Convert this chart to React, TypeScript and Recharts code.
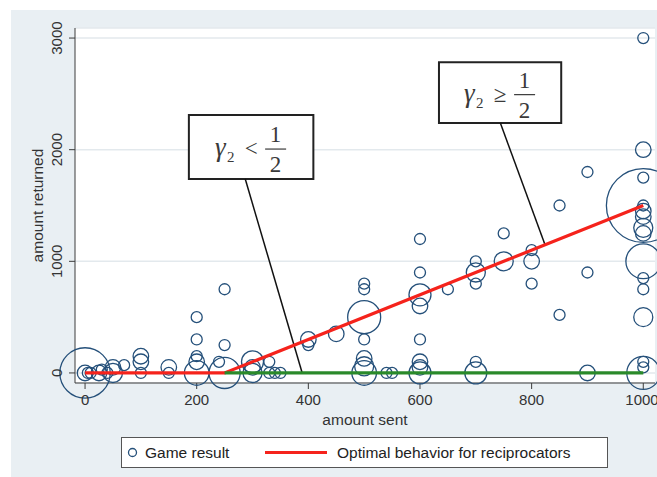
import React from 'react';
import {
  ScatterChart,
  Scatter,
  XAxis,
  YAxis,
  ZAxis,
  CartesianGrid,
  ReferenceArea,
  ReferenceLine,
  Legend,
} from 'recharts';

// amount sent (x), amount returned (y), number of games at that point (bubble weight)
const sentAmounts = [
  0, 0, 5, 10, 25, 30, 40, 50, 50, 70,
  100, 100, 100, 150, 150, 200, 200, 200, 200, 200,
  240, 250, 250, 250, 300, 300, 300, 330, 330, 340,
  350, 400, 400, 450, 500, 500, 500, 500, 500, 500,
  500, 540, 550, 600, 600, 600, 600, 600, 600, 600,
  600, 650, 700, 700, 700, 700, 700, 750, 750, 800,
  800, 800, 850, 850, 900, 900, 900, 1000, 1000, 1000,
  1000, 1000, 1000, 1000, 1000, 1000, 1000, 1000, 1000, 1000,
  1000, 1000, 1000,
];
const returnedAmounts = [
  0, 0, 0, 0, 0, 30, 0, 0, 50, 70,
  150, 100, 0, 50, 0, 500, 300, 150, 100, 0,
  100, 750, 250, 0, 100, 50, 0, 100, 0, 0,
  0, 300, 250, 350, 800, 750, 500, 300, 130, 60,
  0, 0, 0, 1200, 900, 700, 600, 300, 100, 50,
  0, 750, 1000, 900, 800, 100, 0, 1250, 1000, 1100,
  1000, 800, 1500, 520, 1800, 900, 0, 3000, 2000, 1750,
  1500, 1500, 1450, 1400, 1300, 1250, 1000, 850, 750, 500,
  100, 50, 0,
];
const gameCounts = [
  21, 2, 1, 1, 2, 1, 1, 3, 2, 1,
  2, 2, 1, 2, 1, 1, 1, 1, 2, 5,
  1, 1, 1, 8, 4, 2, 3, 1, 1, 1,
  1, 2, 1, 2, 1, 1, 9, 1, 2, 3,
  5, 1, 1, 1, 1, 4, 2, 1, 2, 2,
  4, 1, 1, 3, 1, 1, 4, 1, 3, 1,
  2, 1, 1, 1, 1, 1, 2, 1, 2, 1,
  45, 1, 2, 2, 3, 2, 10, 1, 1, 3,
  1, 1, 9,
];

// Optimal behaviour lines
const reciprocatorSent = [0, 250, 1000];
const reciprocatorReturned = [0, 0, 1500];
const selfishSent = [250, 1000];
const selfishReturned = [0, 0];

const xTicks = [0, 200, 400, 600, 800, 1000];
const yTicks = [0, 1000, 2000, 3000];

const games = sentAmounts.map((s, i) => ({ x: s, y: returnedAmounts[i], z: gameCounts[i] }));
const reciprocatorLine = reciprocatorSent.map((s, i) => ({ x: s, y: reciprocatorReturned[i] }));
const selfishLine = selfishSent.map((s, i) => ({ x: s, y: selfishReturned[i] }));

const NAVY = '#25507a';
const RED = '#f5231c';
const GREEN = '#2a8a2a';
const AXIS = '#3c3c3c';
const SANS = '"Liberation Sans", Arial, Helvetica, sans-serif';
const SERIF = '"Liberation Serif", "Times New Roman", serif';
const MAX_COUNT = 45;
const UNIT_AREA = Math.PI * 5.5 * 5.5;

const YTick = (props: any) => {
  const { x, y, payload } = props;
  return (
    <text
      x={x}
      y={y}
      transform={`rotate(-90 ${x} ${y})`}
      textAnchor="middle"
      fontSize={15}
      fontFamily={SANS}
      fill="#333"
    >
      {payload.value}
    </text>
  );
};

const makeGammaLabel = (sign: string) => (props: any) => {
  const vb = props.viewBox || {};
  const cx = vb.x + vb.width / 2;
  const cy = vb.y + vb.height / 2;
  const col = '#3a3a3a';
  return (
    <g>
      <text x={cx - 36} y={cy + 9} fontSize={27} fontStyle="italic" fontFamily={SERIF} fill={col}>
        γ
      </text>
      <text x={cx - 24} y={cy + 15} fontSize={15} fontFamily={SERIF} fill={col}>
        2
      </text>
      <text x={cx} y={cy + 9} fontSize={23} textAnchor="middle" fontFamily={SERIF} fill={col}>
        {sign}
      </text>
      <text x={cx + 24.5} y={cy - 5} fontSize={23} textAnchor="middle" fontFamily={SERIF} fill={col}>
        1
      </text>
      <line x1={cx + 14} x2={cx + 35} y1={cy + 2} y2={cy + 2} stroke={col} strokeWidth={1.2} />
      <text x={cx + 24.5} y={cy + 25} fontSize={23} textAnchor="middle" fontFamily={SERIF} fill={col}>
        2
      </text>
    </g>
  );
};

const LegendBox = () => (
  <svg width={487} height={31} style={{ display: 'block' }}>
    <rect x={0.5} y={0.5} width={486} height={30} fill="#fff" stroke="#555" strokeWidth={1} />
    <circle cx={11.5} cy={15.5} r={4} fill="none" stroke={NAVY} strokeWidth={1.3} />
    <text x={24} y={21} fontSize={15.5} fontFamily={SANS} fill="#222">
      Game result
    </text>
    <line x1={144} x2={206} y1={15.5} y2={15.5} stroke={RED} strokeWidth={3} />
    <text x={216} y={21} fontSize={15.5} fontFamily={SANS} fill="#222">
      Optimal behavior for reciprocators
    </text>
  </svg>
);

const emptyShape = () => <g />;

export default function App() {
  return (
    <div style={{ position: 'absolute', left: 0, top: 0, width: 657, height: 477, background: '#fff' }}>
      <div
        style={{ position: 'absolute', left: 11, top: 10, width: 646, height: 467, background: '#e9eff3' }}
      />
      <div style={{ position: 'absolute', left: 0, top: 0 }}>
        <ScatterChart width={657} height={477} margin={{ top: 28, right: 2, bottom: 49, left: 0 }}>
          <CartesianGrid
            vertical={false}
            horizontal
            fill="#ffffff"
            stroke="#e3e9ed"
            strokeWidth={1.5}
          />
          <XAxis
            type="number"
            dataKey="x"
            domain={[-18, 1021]}
            ticks={xTicks}
            height={45}
            tickSize={6}
            tickMargin={5}
            stroke={AXIS}
            tick={{ fontSize: 15, fontFamily: SANS, fill: '#333' }}
            label={{
              value: 'amount sent',
              position: 'insideBottom',
              offset: 3,
              fontSize: 15.5,
              fontFamily: SANS,
              fill: '#333',
            }}
          />
          <YAxis
            type="number"
            dataKey="y"
            domain={[-90, 3090]}
            ticks={yTicks}
            width={75}
            tickSize={6}
            tickMargin={7}
            stroke={AXIS}
            tick={<YTick />}
            label={{
              value: 'amount returned',
              angle: -90,
              position: 'center',
              dx: 0,
              fontSize: 15.5,
              fontFamily: SANS,
              fill: '#333',
            }}
          />
          <ZAxis type="number" dataKey="z" domain={[0, MAX_COUNT]} range={[0, MAX_COUNT * UNIT_AREA]} />
          <Scatter
            name="Game result"
            data={games}
            fill="none"
            stroke={NAVY}
            strokeWidth={1.3}
            isAnimationActive={false}
          />
          <Scatter
            name="Optimal behavior for reciprocators"
            data={reciprocatorLine}
            line={{ stroke: RED, strokeWidth: 3.2 }}
            shape={emptyShape}
            fill={RED}
            isAnimationActive={false}
          />
          <Scatter
            name="Selfish"
            data={selfishLine}
            line={{ stroke: GREEN, strokeWidth: 3.2 }}
            shape={emptyShape}
            fill={GREEN}
            isAnimationActive={false}
          />
          <ReferenceLine
            segment={[
              { x: 287, y: 1737 },
              { x: 389, y: 0 },
            ]}
            stroke="#111"
            strokeWidth={1.5}
          />
          <ReferenceLine
            segment={[
              { x: 744, y: 2238 },
              { x: 824, y: 1148 },
            ]}
            stroke="#111"
            strokeWidth={1.5}
          />
          <ReferenceArea
            x1={186}
            x2={409}
            y1={1737}
            y2={2310}
            fill="#fff"
            fillOpacity={1}
            stroke="#222"
            strokeWidth={2}
            label={makeGammaLabel('<')}
          />
          <ReferenceArea
            x1={634}
            x2={853}
            y1={2238}
            y2={2784}
            fill="#fff"
            fillOpacity={1}
            stroke="#222"
            strokeWidth={2}
            label={makeGammaLabel('≥')}
          />
          <Legend
            layout="horizontal"
            verticalAlign="middle"
            align="center"
            content={() => <LegendBox />}
            wrapperStyle={{ position: 'absolute', left: 121, top: 437, width: 487, height: 31 }}
          />
        </ScatterChart>
      </div>
    </div>
  );
}
